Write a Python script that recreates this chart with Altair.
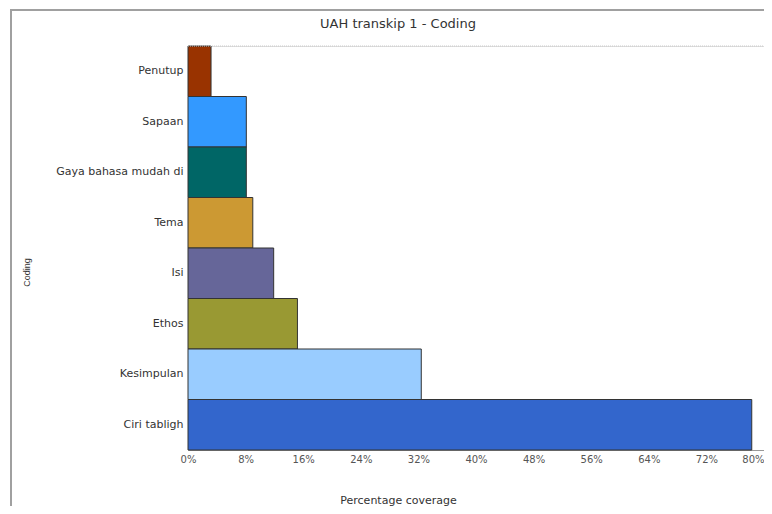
import altair as alt
import pandas as pd

categories = ["Penutup", "Sapaan", "Gaya bahasa mudah di", "Tema", "Isi", "Ethos", "Kesimpulan", "Ciri tabligh"]
coverage = [3.2, 8.1, 8.1, 9.0, 11.9, 15.2, 32.4, 78.3]
colors = ["#993300", "#3399FF", "#006666", "#CC9933", "#666699", "#999933", "#99CCFF", "#3366CC"]
x_ticks = [0, 8, 16, 24, 32, 40, 48, 56, 64, 72, 80]
chart_title = "UAH transkip 1 - Coding"

df = pd.DataFrame({"Coding": categories, "Coverage": coverage})
deco = pd.DataFrame({"t": [chart_title]})

W, H = 576, 404

bars = alt.Chart(df).mark_bar(stroke="#333333", strokeWidth=1).encode(
    y=alt.Y("Coding:N", sort=categories,
            scale=alt.Scale(paddingInner=0, paddingOuter=0),
            axis=alt.Axis(title="Coding", domain=False, ticks=False, labelPadding=5,
                          labelFont="DejaVu Sans", labelFontSize=11, labelColor="#333333",
                          titleFont="Liberation Sans", titleFontSize=9, titleFontWeight="normal",
                          titleColor="#333333", titleAngle=270, titleX=-162, titleY=226,
                          titleAlign="center", titleBaseline="middle")),
    x=alt.X("Coverage:Q", scale=alt.Scale(domain=[0, 80], nice=False),
            axis=alt.Axis(title="Percentage coverage", values=x_ticks, labelExpr="datum.value + '%'",
                          grid=False, ticks=False, domainColor="#999999", domainWidth=1,
                          labelFont="DejaVu Sans", labelFontSize=10, labelColor="#555555",
                          labelPadding=4, labelFlush=False,
                          labelAlign={"condition": {"test": "datum.value == 80", "value": "right"},
                                      "value": "center"},
                          titleFont="DejaVu Sans", titleFontSize=11, titleFontWeight="normal",
                          titleColor="#333333", titleX=210, titleY=50, titleAlign="center",
                          titleBaseline="middle")),
    color=alt.Color("Coding:N", scale=alt.Scale(domain=categories, range=colors), legend=None),
)

top_line = alt.Chart(deco).mark_rule(color="#cccccc", strokeDash=[1, 1], strokeWidth=1).encode(
    x=alt.value(0), x2=alt.value(W), y=alt.value(0)
)
frame_left = alt.Chart(deco).mark_rule(color="#a0a0a0", strokeWidth=2).encode(
    x=alt.value(-177), y=alt.value(-36), y2=alt.value(470)
)
frame_top = alt.Chart(deco).mark_rule(color="#a0a0a0", strokeWidth=2).encode(
    x=alt.value(-178), x2=alt.value(W + 10), y=alt.value(-36)
)
title_text = alt.Chart(deco).mark_text(font="DejaVu Sans", fontSize=13, color="#333333",
                                       align="center", baseline="middle").encode(
    text="t:N", x=alt.value(210), y=alt.value(-22)
)

chart = alt.layer(bars, top_line, frame_left, frame_top, title_text).properties(
    width=W, height=H,
    autosize=alt.AutoSizeParams(type="none"),
    padding={"left": 180, "top": 38, "right": 0, "bottom": 56},
).configure_view(stroke=None).configure(background="white")

chart.save("out.html", embed_options={"renderer": "svg", "actions": False})
